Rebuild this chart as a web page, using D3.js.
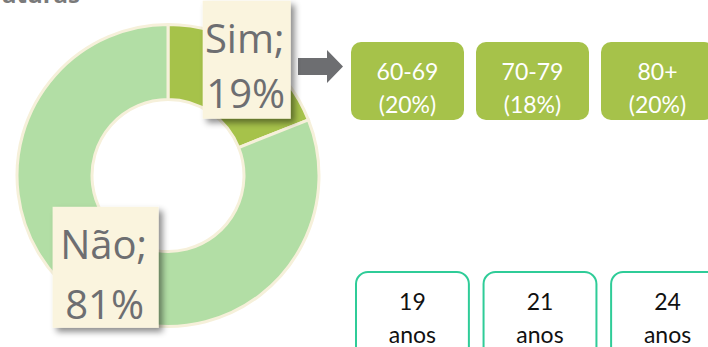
<!DOCTYPE html>
<html>

<head>
  <title>donut</title>
  <script src="https://d3js.org/d3.v7.min.js"></script>
  <style>
    body { margin: 0; background: #fff; }
  </style>
</head>

<body>
  <svg width="708" height="347" id="mainsvg"></svg>
  <script>
    // data
    const answers = ['Sim', 'Não'];
    const answerPct = [19, 81];
    const ageGroups = ['60-69', '70-79', '80+'];
    const agePct = [20, 18, 20];
    const years = [19, 21, 24];

    const svg = d3.select('#mainsvg');
    const cx = 168, cy = 175.5;
    const outerR = 151, innerR = 76;

    const defs = svg.append('defs');
    defs.append('filter').attr('id', 'shadow')
      .attr('x', '-20%').attr('y', '-20%').attr('width', '150%').attr('height', '150%')
      .append('feDropShadow')
      .attr('dx', 4).attr('dy', 4).attr('stdDeviation', 3)
      .attr('flood-color', '#000').attr('flood-opacity', 0.45);

    // cut off title at the very top
    svg.append('text')
      .attr('x', 80).attr('y', 3)
      .attr('text-anchor', 'end')
      .attr('font-family', 'Open Sans')
      .attr('font-weight', 'bold')
      .attr('font-size', 24)
      .attr('fill', '#7a7a7a')
      .text('aturas');

    // donut
    const pie = d3.pie().sort(null).value(d => d.v);
    const arcs = pie(answers.map((a, i) => ({ k: a, v: answerPct[i] })));
    const arc = d3.arc().innerRadius(innerR).outerRadius(outerR);
    const colour = d3.scaleOrdinal().domain(answers).range(['#a6c24a', '#b2dea5']);

    const g = svg.append('g').attr('transform', `translate(${cx},${cy})`);
    g.selectAll('path').data(arcs).join('path')
      .attr('d', arc)
      .attr('fill', d => colour(d.data.k))
      .attr('stroke', '#f6f0da')
      .attr('stroke-width', 3);

    // arrow
    svg.append('path')
      .attr('d', 'M298,58 L327,58 L327,50 L343,66.5 L327,83 L327,75 L298,75 Z')
      .attr('fill', '#6d6e71');

    // labels on the donut
    const labelR = [140, 111];
    const labelBox = [[88, 118], [106, 121]];
    const lineGap = [55, 60];
    arcs.forEach((d, i) => {
      const la = d3.arc().innerRadius(labelR[i]).outerRadius(labelR[i]);
      const [lx, ly] = la.centroid(d);
      const [w, h] = labelBox[i];
      const lg = svg.append('g').attr('transform', `translate(${cx + lx},${cy + ly})`);
      lg.append('rect')
        .attr('x', -w / 2).attr('y', -h / 2)
        .attr('width', w).attr('height', h)
        .attr('fill', '#faf4de')
        .attr('filter', 'url(#shadow)');
      const t = lg.append('text')
        .attr('text-anchor', 'middle')
        .attr('font-family', 'Open Sans')
        .attr('font-size', 40)
        .attr('fill', '#6d6e71');
      t.append('tspan').attr('x', -2).attr('y', -h / 2 + 52).text(d.data.k + ';');
      t.append('tspan').attr('x', -1).attr('y', -h / 2 + 52 + lineGap[i]).text(d.data.v + '%');
    });

    // age group boxes
    const xAge = d3.scaleBand().domain(ageGroups).range([351, 714]).paddingInner(0.096);
    const ageG = svg.selectAll('g.age').data(ageGroups).join('g')
      .attr('class', 'age')
      .attr('transform', d => `translate(${xAge(d)},42)`);
    ageG.append('rect')
      .attr('width', xAge.bandwidth()).attr('height', 78)
      .attr('rx', 10).attr('fill', '#a6c24a');
    const at = ageG.append('text')
      .attr('text-anchor', 'middle')
      .attr('font-family', 'Lato')
      .attr('font-size', 23)
      .attr('fill', '#fff');
    at.append('tspan').attr('x', xAge.bandwidth() / 2).attr('y', 38).text(d => d);
    at.append('tspan').attr('x', xAge.bandwidth() / 2).attr('y', 71).text((d, i) => `(${agePct[i]}%)`);

    // years boxes
    const xYears = d3.scaleBand().domain(years).range([356, 724]).paddingInner(0.115);
    const yG = svg.selectAll('g.yr').data(years).join('g')
      .attr('class', 'yr')
      .attr('transform', d => `translate(${xYears(d)},272)`);
    yG.append('rect')
      .attr('width', xYears.bandwidth()).attr('height', 100)
      .attr('rx', 12).attr('fill', '#fff')
      .attr('stroke', '#2fcc98').attr('stroke-width', 2);
    const yt = yG.append('text')
      .attr('text-anchor', 'middle')
      .attr('font-family', 'Lato')
      .attr('font-size', 23)
      .attr('fill', '#111');
    yt.append('tspan').attr('x', xYears.bandwidth() / 2).attr('y', 38).text(d => d);
    yt.append('tspan').attr('x', xYears.bandwidth() / 2).attr('y', 71).text('anos');
  </script>
</body>

</html>
